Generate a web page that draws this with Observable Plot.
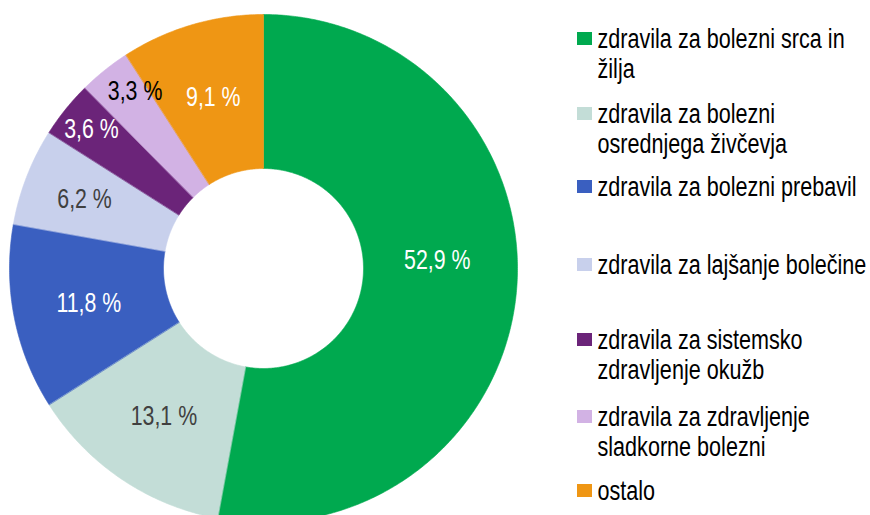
<!DOCTYPE html>
<html>
<head>
<meta charset="utf-8">
<script src="https://cdn.jsdelivr.net/npm/d3@7"></script>
<script src="https://cdn.jsdelivr.net/npm/@observablehq/plot@0.6"></script>
<style>
  html, body { margin: 0; padding: 0; background: #fff; overflow: hidden; }
  #chart svg { display: block; }
</style>
</head>
<body>
<div id="chart"></div>
<script>
// ---- data ----
const categories = [
  "zdravila za bolezni srca in\nžilja",
  "zdravila za bolezni\nosrednjega živčevja",
  "zdravila za bolezni prebavil",
  "zdravila za lajšanje bolečine",
  "zdravila za sistemsko\nzdravljenje okužb",
  "zdravila za zdravljenje\nsladkorne bolezni",
  "ostalo"
];
const shares = [52.9, 13.1, 11.8, 6.2, 3.6, 3.3, 9.1];
const shareLabels = ["52,9 %", "13,1 %", "11,8 %", "6,2 %", "3,6 %", "3,3 %", "9,1 %"];

// ---- styles / layout ----
const colors = ["#00A94F", "#C3DDD7", "#3A5FC0", "#C8D0EC", "#6B2479", "#D2B2E4", "#EF9614"];
const labelColors = ["#ffffff", "#404040", "#ffffff", "#404040", "#ffffff", "#000000", "#ffffff"];
const labelRadius = [174, 178, 178, 192, 221, 219, 178];
const labelAngleShift = [-7.8, 0, 0, 0, 0, 2.8, 0]; // degrees
const cx = 263, cy = 268, rOuter = 254, rInner = 100;
const legendBaselines = [47, 122, 195, 273, 348, 425, 499];
const legendLineHeight = 30;
const W = 870, H = 515;
const FONT = "Liberation Sans, Arial, Helvetica, sans-serif";
const CONDENSE_LABEL = 0.79, CONDENSE_LEGEND = 0.785;

const pie = d3.pie().sort(null).value(d => d)(shares);

const slices = [];
pie.forEach((p, i) => {
  const a0 = p.startAngle, a1 = p.endAngle;
  const n = Math.max(4, Math.ceil((a1 - a0) / (Math.PI / 360)));
  for (let k = 0; k <= n; k++) {
    const a = a0 + (a1 - a0) * k / n;
    slices.push({key: categories[i], px: cx + rOuter * Math.sin(a), py: cy - rOuter * Math.cos(a)});
  }
  for (let k = n; k >= 0; k--) {
    const a = a0 + (a1 - a0) * k / n;
    slices.push({key: categories[i], px: cx + rInner * Math.sin(a), py: cy - rInner * Math.cos(a)});
  }
});

const labelData = pie.map((p, i) => {
  const a = (p.startAngle + p.endAngle) / 2 + labelAngleShift[i] * Math.PI / 180;
  return {text: shareLabels[i], color: labelColors[i],
          px: cx + labelRadius[i] * Math.sin(a), py: cy - labelRadius[i] * Math.cos(a)};
});

const legendLines = [];
const legendItems = categories.map((c, i) => ({key: c, base: legendBaselines[i]}));
categories.forEach((c, i) => {
  c.split("\n").forEach((line, j) => {
    legendLines.push({text: line, base: legendBaselines[i] + j * legendLineHeight});
  });
});

const chart = Plot.plot({
  width: W,
  height: H,
  margin: 0,
  style: {fontFamily: FONT, background: "#fff"},
  x: {domain: [0, W], range: [0, W], axis: null},
  y: {domain: [0, H], range: [0, H], axis: null},
  color: {domain: categories, range: colors},
  marks: [
    Plot.line(slices, {x: "px", y: "py", z: "key", fill: "key", stroke: "key", strokeWidth: 0.6, curve: "linear-closed"}),
    Plot.text(labelData, {x: "px", y: "py", text: "text", fill: d => d.color, fontSize: 27, textAnchor: "middle", lineAnchor: "middle", className: "pct-label"}),
    Plot.rect(legendItems, {x1: () => 577, x2: () => 592, y1: d => d.base - 15, y2: d => d.base - 2, fill: "key"}),
    Plot.text(legendLines, {x: () => 597, y: "base", text: "text", fill: "#000", fontSize: 27.5, textAnchor: "start", lineAnchor: "bottom", className: "legend-label"})
  ]
});

// condensed (narrow) look of the reference font
function condense(selector, k) {
  chart.querySelectorAll(selector + " text").forEach(t => {
    const tr = t.getAttribute("transform") || "";
    t.setAttribute("transform", tr + ` scale(${k},1)`);
  });
}
condense(".pct-label", CONDENSE_LABEL);
condense(".legend-label", CONDENSE_LEGEND);

document.getElementById("chart").appendChild(chart);
</script>
</body>
</html>
